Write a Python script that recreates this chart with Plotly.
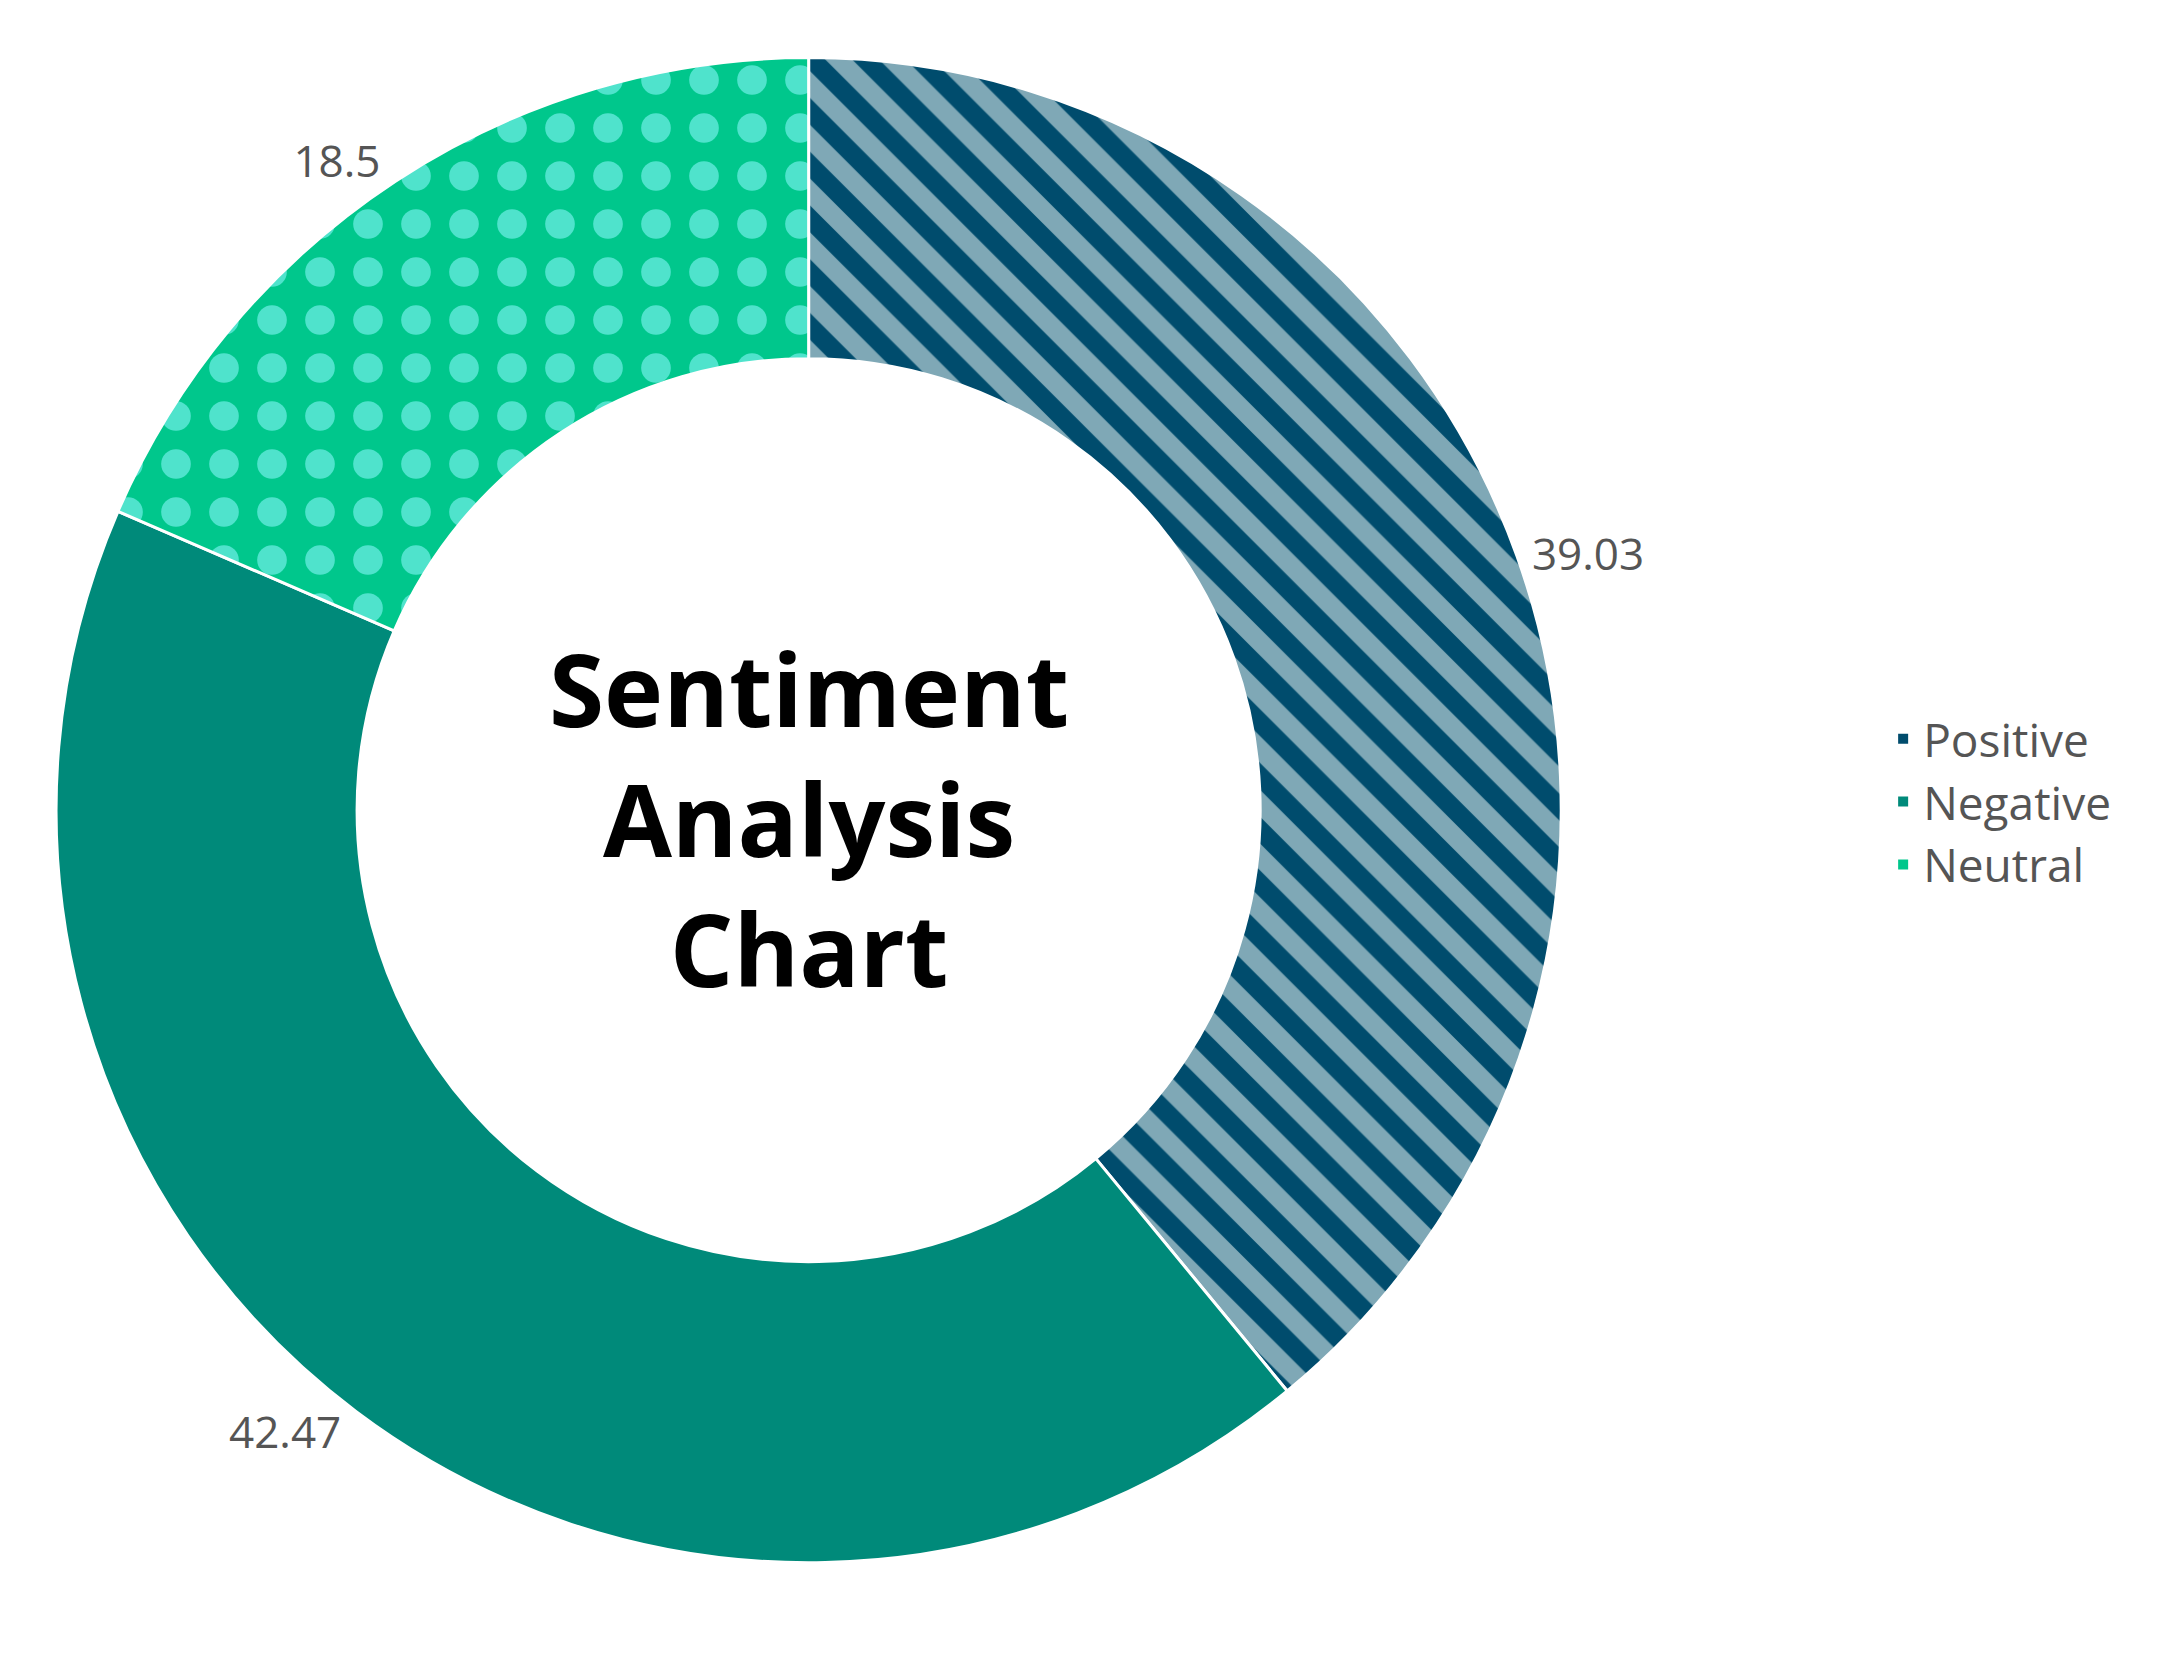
import plotly.graph_objects as go

labels = ["Positive", "Negative", "Neutral"]
values = [39.03, 42.47, 18.5]
colors = ["#004c6d", "#008a7a", "#00c78c"]
pattern_shapes = ["\\", "", "."]
pattern_fg = ["#004c6d", "#008a7a", "#4fe3cc"]
pattern_bg = ["#7fa8b6", "#008a7a", "#00c78c"]

fig = go.Figure(go.Pie(
    labels=labels, values=values, hole=0.6, sort=False, direction="clockwise",
    rotation=0,
    marker=dict(colors=colors, line=dict(color="white", width=3),
                pattern=dict(shape=pattern_shapes, fgcolor=pattern_fg, bgcolor=pattern_bg,
                             size=[38, 0, 48], solidity=[0.5, 0.3, 0.3], fillmode="replace")),
    textinfo="value", textposition="outside",
    textfont=dict(size=44, color="#555555", family="Open Sans"),
    domain=dict(x=[0.0, 0.72], y=[0.06, 0.97]),
))
fig.add_annotation(text="<b>Sentiment<br>Analysis<br>Chart</b>", x=0.36, y=0.51,
                   xref="paper", yref="paper", showarrow=False,
                   font=dict(size=100, color="black", family="Open Sans"))
fig.update_layout(
    width=2176, height=1654, paper_bgcolor="white", plot_bgcolor="white",
    margin=dict(l=0, r=0, t=0, b=0),
    legend=dict(x=0.86, y=0.52, xanchor="left", yanchor="middle",
                font=dict(size=46, color="#555555", family="Open Sans"), itemsizing="constant"),
)
fig.write_html("out.html")
